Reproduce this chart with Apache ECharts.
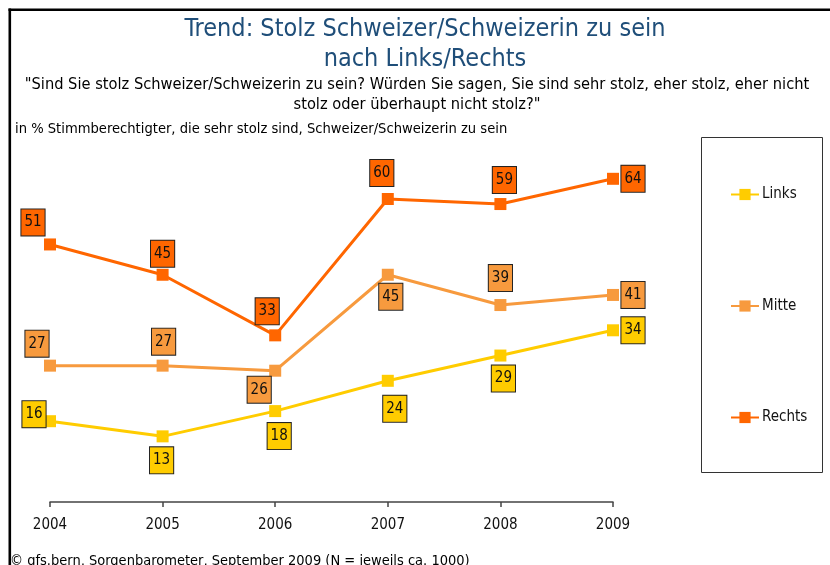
<!DOCTYPE html>
<html>
<head>
<meta charset="utf-8">
<title>Trend: Stolz Schweizer/Schweizerin zu sein</title>
<script src="https://cdn.jsdelivr.net/npm/echarts@6/dist/echarts.min.js"></script>
<style>
  html, body { margin: 0; padding: 0; background: #fff; }
  #chart { width: 830px; height: 565px; }
</style>
</head>
<body>
<div id="chart"></div>
<script>
  /******************/
  //region    //data

  let years = ['2004', '2005', '2006', '2007', '2008', '2009'];
  let links = [16, 13, 18, 24, 29, 34];
  let mitte = [27, 27, 26, 45, 39, 41];
  let rechts = [51, 45, 33, 60, 59, 64];

  //endregion

  /******************/
  //region    //initialize

  let font = '"DejaVu Sans Condensed", "DejaVu Sans", sans-serif';
  let colors = {links: '#FFCC00', mitte: '#F79A3E', rechts: '#FF6600'};

  // Lage der Wertkästchen relativ zum Punkt (px)
  let offsets = {
    links: [[-16, -7], [-1, 24], [4, 25], [7, 28], [3, 23], [20, 0]],
    mitte: [[-13, -22], [1, -24], [-16, 19], [3, 22], [0, -27], [20, 0]],
    rechts: [[-17, -22], [0, -21], [-8, -24], [-6, -26], [4, -24], [20, 0]],
  };

  //endregion

  /******************/
  //region    //function

  /**
   * Linienserie mit Kästchen-Labels
   */
  function lineSeries(name, key, values) {
    return {
      name: name,
      type: 'line',
      symbol: 'rect',
      symbolSize: 12,
      color: colors[key],
      lineStyle: {width: 3, color: colors[key]},
      itemStyle: {color: colors[key]},
      emphasis: {disabled: true},
      z: key === 'links' ? 4 : key === 'mitte' ? 3 : 2,
      data: values.map((v, i) => ({
        value: v,
        label: {offset: offsets[key][i]},
      })),
      label: {
        show: true,
        position: 'inside',
        fontFamily: font,
        fontSize: 15,
        lineHeight: 15,
        color: '#111',
        backgroundColor: colors[key],
        borderColor: '#222',
        borderWidth: 1,
        padding: [6, 3, 5, 3],
      },
    };
  }

  function deployEchart() {
    let chart = echarts.init(document.getElementById('chart'));

    let option = {
      animation: false,
      backgroundColor: '#fff',
      grid: {left: 50, right: 217, top: 148.5, bottom: 63, containLabel: false},
      xAxis: {
        type: 'category',
        data: years,
        boundaryGap: false,
        axisLine: {lineStyle: {color: '#444', width: 1.5}},
        axisTick: {show: true, length: 5, lineStyle: {color: '#444', width: 1.5}},
        axisLabel: {color: '#111', fontFamily: font, fontSize: 15, margin: 16},
        splitLine: {show: false},
      },
      yAxis: {
        type: 'value',
        min: 0,
        max: 70,
        show: false,
      },
      legend: {
        orient: 'vertical',
        left: 725,
        top: 182,
        itemWidth: 28,
        itemHeight: 14,
        itemGap: 96.5,
        selectedMode: false,
        textStyle: {fontFamily: font, fontSize: 15, color: '#111', padding: [0, 0, 0, -2]},
        data: ['Links', 'Mitte', 'Rechts'],
      },
      graphic: [
        // Rahmen oben/links
        {type: 'rect', shape: {x: 8.5, y: 8.5, width: 2.6, height: 560}, style: {fill: '#000'}},
        {type: 'rect', shape: {x: 8.5, y: 8.5, width: 825, height: 2.6}, style: {fill: '#000'}},
        // Legendenrahmen
        {type: 'rect', shape: {x: 701.5, y: 137.5, width: 121, height: 335}, style: {fill: 'none', stroke: '#333', lineWidth: 1}},
        {
          type: 'text', position: [425, 14],
          style: {
            text: 'Trend: Stolz Schweizer/Schweizerin zu sein\nnach Links/Rechts',
            font: '25px ' + font, fill: '#1F4E79', textAlign: 'center', lineHeight: 30,
          },
        },
        {
          type: 'text', position: [417, 75],
          style: {
            text: '"Sind Sie stolz Schweizer/Schweizerin zu sein? Würden Sie sagen, Sie sind sehr stolz, eher stolz, eher nicht\nstolz oder überhaupt nicht stolz?"',
            font: '16.3px ' + font, fill: '#000', textAlign: 'center', lineHeight: 20,
          },
        },
        {
          type: 'text', position: [15, 122],
          style: {
            text: 'in % Stimmberechtigter, die sehr stolz sind, Schweizer/Schweizerin zu sein',
            font: '14.6px ' + font, fill: '#000',
          },
        },
        {
          type: 'text', position: [10, 554],
          style: {
            text: '© gfs.bern, Sorgenbarometer, September 2009 (N = jeweils ca. 1000)',
            font: '14.5px ' + font, fill: '#000',
          },
        },
      ],
      series: [
        lineSeries('Links', 'links', links),
        lineSeries('Mitte', 'mitte', mitte),
        lineSeries('Rechts', 'rechts', rechts),
      ],
    };

    chart.setOption(option);
  }

  deployEchart();

  //endregion
</script>
</body>
</html>
